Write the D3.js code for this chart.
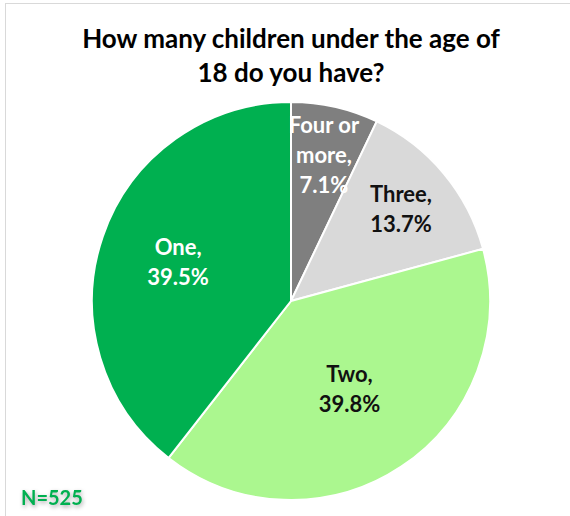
<!DOCTYPE html>
<html>
<head>
<meta charset="utf-8">
<script src="https://cdn.jsdelivr.net/npm/d3@7"></script>
<style>
  body { margin: 0; background: #fff; }
  svg { font-family: Lato, "Open Sans", sans-serif; }
</style>
</head>
<body>
<div id="chart"></div>
<script>
// data
const categories = ["Four or\nmore,", "Three,", "Two,", "One,"];
const values = [7.1, 13.7, 39.8, 39.5];
const colors = ["#7f7f7f", "#d9d9d9", "#abf78f", "#00b050"];
const labelColors = ["#fff", "#111", "#111", "#fff"];
const titleLines = ["How many children under the age of", "18 do you have?"];
const note = "N=525";

const width = 570, height = 516;
const cx = 291, cy = 301, radius = 199;

const svg = d3.select("#chart")
  .append("svg")
    .attr("width", width)
    .attr("height", height);

// frame
svg.append("rect")
  .attr("x", 5.5).attr("y", 3.5)
  .attr("width", width + 10).attr("height", height + 10)
  .attr("fill", "#fff")
  .attr("stroke", "#d9d9d9");

// title
svg.append("g").selectAll("text")
  .data(titleLines)
  .join("text")
    .attr("x", 291)
    .attr("y", (d, i) => 48 + i * 34)
    .attr("text-anchor", "middle")
    .style("font-size", "26px")
    .style("font-weight", "bold")
    .style("fill", "#000")
    .text(d => d);

const data = categories.map((c, i) => ({ name: c, value: values[i], i }));

const pie = d3.pie()
  .sort(null)
  .value(d => d.value);

const arc = d3.arc()
  .innerRadius(0)
  .outerRadius(radius);

const g = svg.append("g")
  .attr("transform", `translate(${cx},${cy})`);

const arcs = pie(data);

g.selectAll("path")
  .data(arcs)
  .join("path")
    .attr("d", arc)
    .attr("fill", d => colors[d.data.i])
    .attr("stroke", "#fff")
    .attr("stroke-width", 2);

// label positions: fraction of radius along the mid angle
const labelR = [0.75, 0.72, 0.53, 0.6];
const labelArc = i => d3.arc().innerRadius(radius * labelR[i]).outerRadius(radius * labelR[i]);

const labels = g.selectAll("text.lbl")
  .data(arcs)
  .join("text")
    .attr("class", "lbl")
    .attr("text-anchor", "middle")
    .style("font-size", "22px")
    .style("font-weight", "bold")
    .style("fill", d => labelColors[d.data.i])
    .attr("transform", d => `translate(${labelArc(d.data.i).centroid(d)})`);

labels.each(function(d) {
  const lines = d.data.name.split("\n").concat([d.data.value.toFixed(1) + "%"]);
  const lh = 30;
  const y0 = -((lines.length - 1) * lh) / 2 + 8;
  d3.select(this).selectAll("tspan")
    .data(lines)
    .join("tspan")
      .attr("x", 0)
      .attr("y", (l, k) => y0 + k * lh)
      .text(l => l);
});

// sample size note
svg.append("text")
  .attr("x", 21)
  .attr("y", 505)
  .style("font-size", "20px")
  .style("font-weight", "bold")
  .style("fill", "#00b050")
  .style("filter", "drop-shadow(1px 2px 2px rgba(0,0,0,0.35))")
  .text(note);
</script>
</body>
</html>
